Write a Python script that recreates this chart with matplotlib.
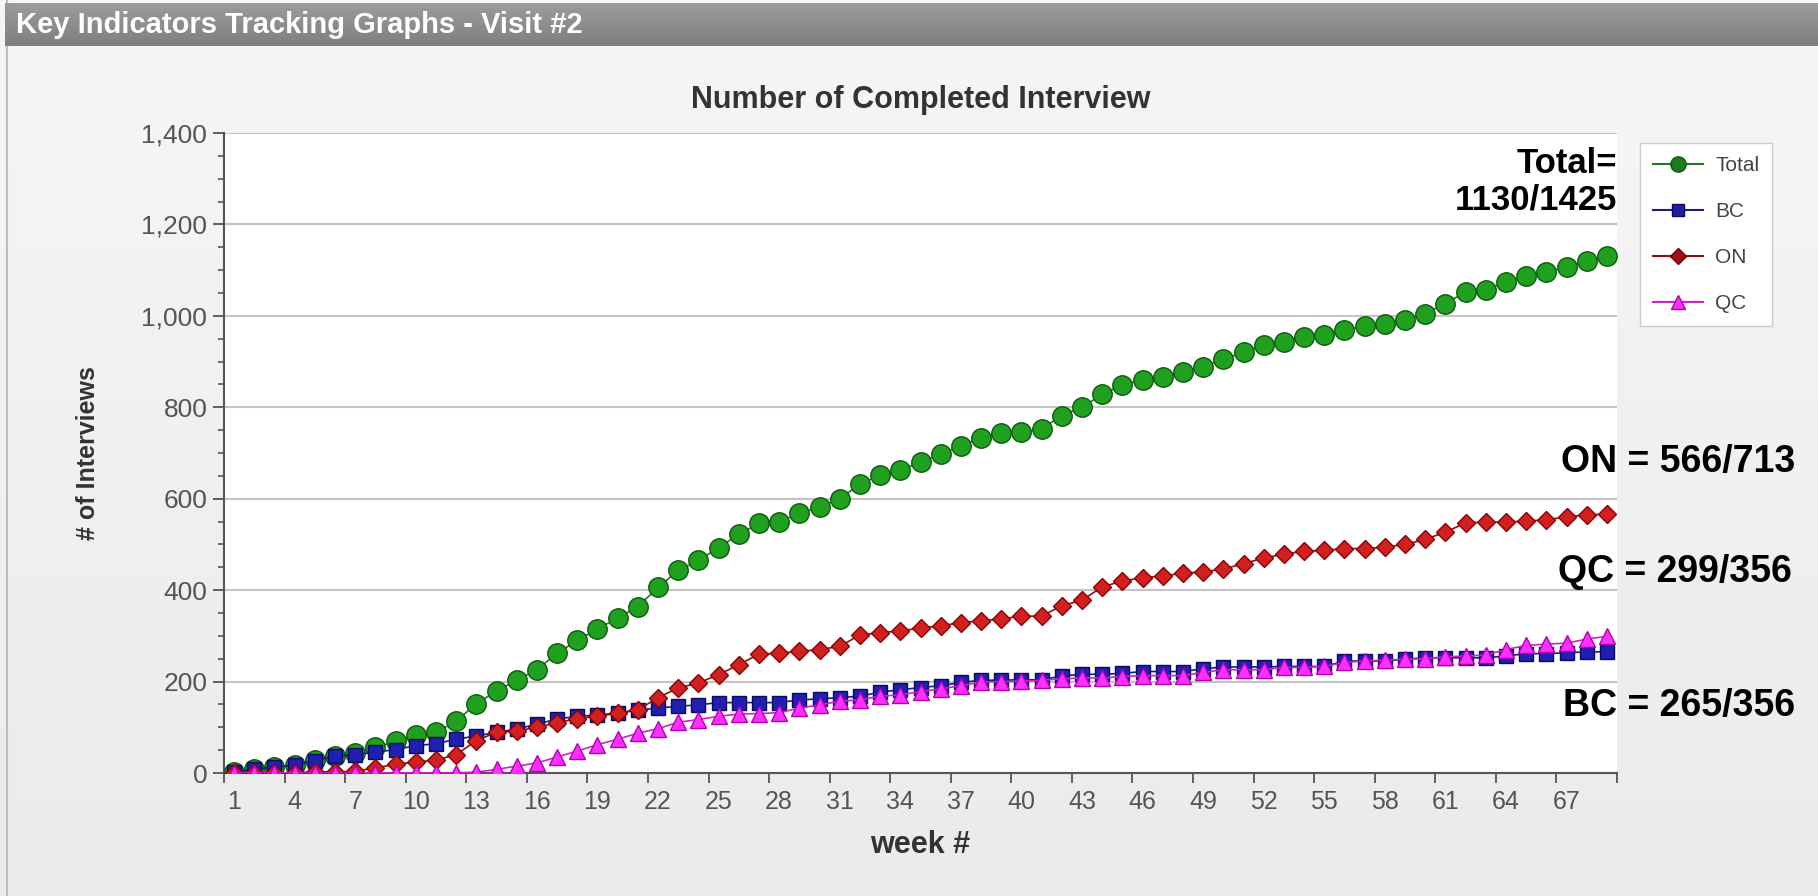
import numpy as np
import matplotlib.pyplot as plt
from matplotlib.colors import LinearSegmentedColormap
from matplotlib.ticker import FuncFormatter, MultipleLocator
from matplotlib.lines import Line2D

plt.rcParams['font.family'] = ['Liberation Sans', 'DejaVu Sans']

# cumulative completed interviews per week
weeks = np.arange(1, 70)

total = [3, 8, 13, 17, 29, 38, 43, 56, 69, 83, 89, 113, 152, 179, 203, 226, 262, 290,
         315, 339, 364, 406, 443, 465, 493, 522, 546, 550, 568, 581, 600, 632, 651, 662,
         680, 697, 716, 733, 744, 746, 753, 782, 800, 828, 849, 860, 867, 877, 889, 905,
         920, 936, 943, 954, 958, 970, 977, 983, 991, 1005, 1027, 1052, 1057, 1073, 1087,
         1096, 1107, 1119, 1130]

bc = [3, 8, 13, 17, 27, 37, 40, 46, 51, 60, 64, 74, 81, 89, 96, 107, 118, 124,
      127, 131, 138, 142, 146, 149, 154, 154, 154, 154, 160, 162, 165, 168, 177, 182,
      187, 191, 198, 203, 203, 204, 204, 212, 216, 216, 218, 222, 222, 222, 228, 232,
      232, 232, 233, 233, 233, 245, 245, 245, 249, 252, 252, 252, 252, 256, 261,
      261, 263, 265, 265]

on = [0, 0, 0, 0, 3, 2, 4, 11, 19, 24, 28, 40, 71, 89, 92, 100, 110, 119,
      124, 131, 138, 165, 186, 197, 215, 237, 260, 262, 266, 270, 277, 302, 307, 311,
      317, 322, 329, 333, 337, 343, 343, 366, 378, 407, 420, 427, 431, 437, 440, 446,
      458, 470, 479, 485, 487, 491, 491, 494, 500, 511, 527, 547, 549, 549, 551,
      554, 560, 565, 566]

qc = [0, 0, 0, 0, 0, 0, 0, 0, 0, 0, 0, 0, 2, 8, 15, 22, 35, 48,
      62, 74, 87, 97, 111, 117, 124, 129, 130, 132, 142, 149, 157, 160, 168, 171,
      178, 184, 191, 199, 200, 201, 203, 206, 208, 208, 211, 213, 213, 213, 220, 226,
      226, 226, 231, 231, 233, 242, 245, 247, 249, 250, 254, 256, 258, 270, 279,
      282, 284, 293, 299]

label_weeks = np.arange(1, 68, 3)
notes = ["Total=\n1130/1425", "ON = 566/713", "QC = 299/356", "BC = 265/356"]

fig = plt.figure(figsize=(18.18, 8.96), dpi=100)
fig.patch.set_facecolor('#f3f3f3')

# panel background gradient + header bar
bg = fig.add_axes([0, 0, 1, 1], zorder=-10)
bg.imshow(np.linspace(0, 1, 100).reshape(-1, 1),
          cmap=LinearSegmentedColormap.from_list('bg', ['#f6f6f6', '#ebebeb']),
          aspect='auto', extent=[0, 1, 0, 1], origin='upper')
bg.axvline(0.004, color='#bdbdbd', lw=1.5)
bg.set_xlim(0, 1)
bg.set_ylim(0, 1)
bg.axis('off')

hd = fig.add_axes([0.003, 1 - 46 / 896, 0.997, 43 / 896])
hd.imshow(np.linspace(0, 1, 50).reshape(-1, 1),
          cmap=LinearSegmentedColormap.from_list('hd', ['#9c9c9c', '#7f7f7f']),
          aspect='auto', extent=[0, 1, 0, 1])
hd.axis('off')
hd.text(0.006, 0.48, "Key Indicators Tracking Graphs - Visit #2", color='white',
        fontsize=21, fontweight='bold', va='center', ha='left')

ax = fig.add_axes([224 / 1818, 123 / 896, 1393 / 1818, 640 / 896])
ax.set_facecolor('white')

x = weeks + 0.5
ax.plot(x, total, '-o', color='#1f7a1f', lw=1.2, ms=14, mfc='#1fa01f', mec='#0f5a0f', label='Total', zorder=3)
ax.plot(x, bc, '-s', color='#1a1a8c', lw=1.2, ms=10.5, mfc='#1f1fb0', mec='#0a0a60', label='BC', zorder=4)
ax.plot(x, on, '-D', color='#8b1010', lw=1.2, ms=9.5, mfc='#d02020', mec='#8b0000', label='ON', zorder=5)
ax.plot(x, qc, '-^', color='#d020d0', lw=1.2, ms=12, mfc='#ff30ff', mec='#b000b0', label='QC', zorder=6)

ax.set_xlim(1, 70)
ax.set_ylim(0, 1400)
ax.set_yticks(np.arange(0, 1401, 200))
ax.yaxis.set_minor_locator(MultipleLocator(50))
ax.yaxis.set_major_formatter(FuncFormatter(lambda v, p: f"{int(v):,}"))
ax.set_xticks(label_weeks + 0.5)
ax.set_xticklabels([str(w) for w in label_weeks])
ax.set_xticks(np.arange(1, 71, 3), minor=True)
ax.tick_params(axis='x', which='major', length=0, pad=12, labelsize=18, labelcolor='#555555')
ax.tick_params(axis='x', which='minor', length=7, width=1.3, color='#555555', direction='out')
ax.tick_params(axis='y', which='major', length=8, width=1.3, color='#555555', labelsize=19,
               labelcolor='#555555', pad=4)
ax.tick_params(axis='y', which='minor', length=4, width=1.2, color='#555555')

ax.grid(axis='y', which='major', color='#c4c4c4', lw=1.5)
ax.set_axisbelow(True)
for s in ['top', 'right']:
    ax.spines[s].set_visible(False)
for s in ['left', 'bottom']:
    ax.spines[s].set_color('#555555')
    ax.spines[s].set_linewidth(1.5)

ax.set_title("Number of Completed Interview", fontsize=22, fontweight='bold', color='#333333', pad=18)
ax.set_xlabel("week #", fontsize=22, fontweight='bold', color='#333333', labelpad=12)
ax.set_ylabel("# of Interviews", fontsize=18, fontweight='bold', color='#333333', labelpad=30)

handles = [
    Line2D([], [], color='#1f7a1f', marker='o', ms=11, mfc='#1e7a1e', mec='#0f5a0f'),
    Line2D([], [], color='#1a1a8c', marker='s', ms=8, mfc='#1f1fa0', mec='#0a0a60'),
    Line2D([], [], color='#8b1010', marker='D', ms=8, mfc='#a01010', mec='#700000'),
    Line2D([], [], color='#d020d0', marker='^', ms=10, mfc='#ff30ff', mec='#b000b0'),
]
leg = fig.legend(handles, ['Total', 'BC', 'ON', 'QC'], loc='upper left',
                 bbox_to_anchor=(1630 / 1818, 763 / 896), fontsize=15, frameon=True,
                 fancybox=False, edgecolor='#cccccc', facecolor='white', framealpha=1,
                 handlelength=2.4, handletextpad=0.6, labelspacing=1.3, borderpad=0.6)
for t in leg.get_texts():
    t.set_color('#444444')

fig.text(1617 / 1818, 1 - 182 / 896, notes[0], ha='right', va='center', fontsize=25,
         fontweight='bold', color='black', linespacing=1.15)
fig.text(1795 / 1818, 1 - 462 / 896, notes[1], ha='right', va='center', fontsize=27,
         fontweight='bold', color='black')
fig.text(1792 / 1818, 1 - 572 / 896, notes[2], ha='right', va='center', fontsize=27,
         fontweight='bold', color='black')
fig.text(1795 / 1818, 1 - 706 / 896, notes[3], ha='right', va='center', fontsize=27,
         fontweight='bold', color='black')

fig.savefig('out.png', dpi=100)
